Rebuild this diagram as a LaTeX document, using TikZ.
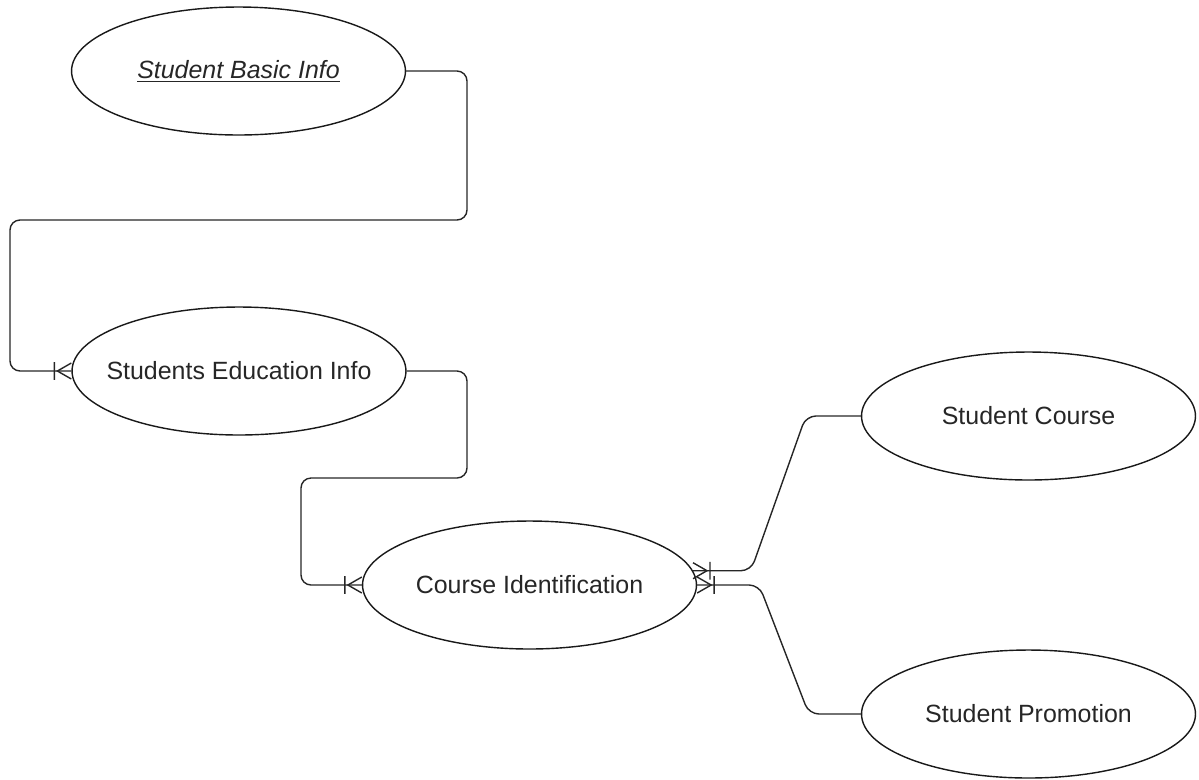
\documentclass[tikz,border=0pt]{standalone}
\usepackage{fontspec}
\setmainfont{Liberation Sans}
\usetikzlibrary{arrows.meta,shapes.geometric,calc}

% "one or many" end: a crow's foot at the tip and a cross bar behind it
\pgfdeclarearrow{
  name = ERmany,
  parameters = {\the\pgfarrowlength,\the\pgfarrowwidth},
  setup code = {
    \pgfarrowssettipend{0pt}
    \pgfarrowssetlineend{0pt}
    \pgfarrowssetbackend{-\pgfarrowlength}
    \pgfarrowssetvisualbackend{-\pgfarrowlength}
    \pgfarrowshullpoint{0pt}{.55\pgfarrowwidth}
    \pgfarrowshullpoint{0pt}{-.55\pgfarrowwidth}
    \pgfarrowshullpoint{-\pgfarrowlength}{.55\pgfarrowwidth}
    \pgfarrowshullpoint{-\pgfarrowlength}{-.55\pgfarrowwidth}
    \pgfarrowssavethe\pgfarrowlength
    \pgfarrowssavethe\pgfarrowwidth
  },
  drawing code = {
    \pgfsetdash{}{0pt}
    \pgfpathmoveto{\pgfqpoint{0pt}{.5\pgfarrowwidth}}
    \pgfpathlineto{\pgfqpoint{-.82\pgfarrowlength}{0pt}}
    \pgfpathlineto{\pgfqpoint{0pt}{-.5\pgfarrowwidth}}
    \pgfpathmoveto{\pgfqpoint{-\pgfarrowlength}{.55\pgfarrowwidth}}
    \pgfpathlineto{\pgfqpoint{-\pgfarrowlength}{-.55\pgfarrowwidth}}
    \pgfusepathqstroke
  },
  defaults = {length = 0.34cm, width = 0.32cm}
}

% label whose width does not grow the ellipse around it
\newcommand{\entitylabel}[1]{\makebox[0pt][c]{#1}}

\begin{document}
\begin{tikzpicture}[x=0.02cm,y=-0.02cm,
  entity/.style={ellipse, draw=black!90, line width=0.8pt,
    minimum width=6.68cm, minimum height=2.56cm, inner sep=0pt,
    font=\fontsize{14.2}{17}\selectfont, text=black!85},
  conn/.style={draw=black!85, line width=0.8pt, rounded corners=0.2cm, -{ERmany}}]
\useasboundingbox (0,0) rectangle (1199,779);

% entities
\node[entity] (sbi) at (238.5,71)   {\entitylabel{\textit{\underline{Student Basic Info}}}};
\node[entity] (sei) at (239,371)    {\entitylabel{Students Education Info}};
\node[entity] (ci)  at (529.5,585)  {\entitylabel{Course Identification}};
\node[entity] (sc)  at (1028.5,416) {\entitylabel{Student Course}};
\node[entity] (sp)  at (1028.5,714) {\entitylabel{Student Promotion}};

% relationships
\draw[conn] (sbi.east) -| (467,220) -| (10,371) -- (sei.west);
\draw[conn] (sei.east) -| (467,478) -| (301,585) -- (ci.west);
\draw[conn] (sc.west) -- ++(-55,0) -- ($(ci.5)+(58,0)$) -- (ci.5);
\draw[conn] (sp.west) -- ++(-52,0) -- ($(ci.east)+(62,0)$) -- (ci.east);
\end{tikzpicture}
\end{document}
